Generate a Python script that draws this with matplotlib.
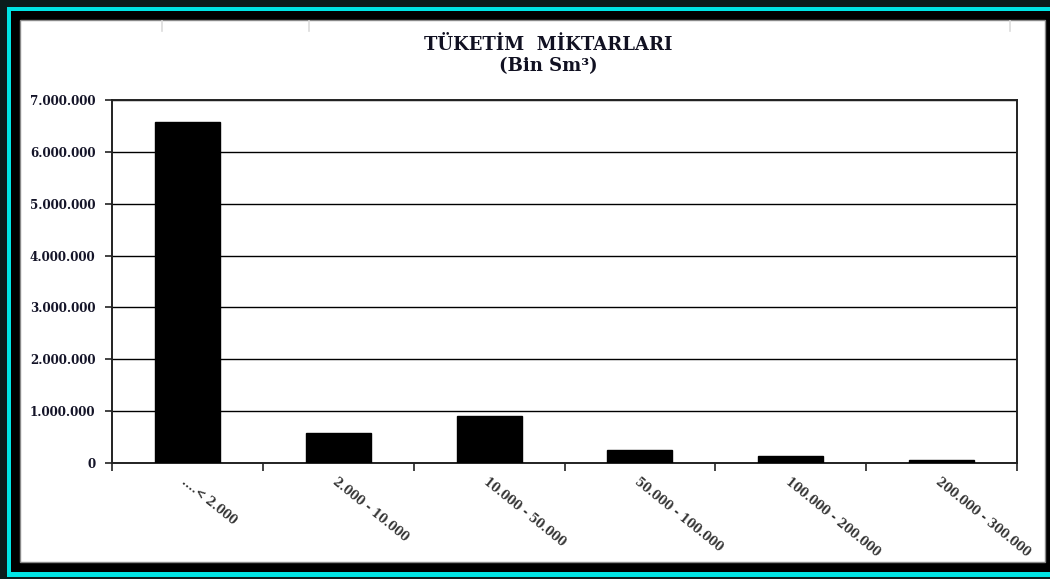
import matplotlib
matplotlib.use("Agg")
import matplotlib.pyplot as plt
from matplotlib.patches import Rectangle
from matplotlib.lines import Line2D
from matplotlib.ticker import FuncFormatter, MultipleLocator

categories = ["....< 2.000", "2.000 - 10.000", "10.000 - 50.000",
              "50.000 - 100.000", "100.000 - 200.000", "200.000 - 300.000"]
values = [6580000, 575000, 905000, 260000, 135000, 58000]

W, H = 1050, 579
FONT = "DejaVu Serif"
fig = plt.figure(figsize=(W / 100, H / 100), dpi=100)
fig.patch.set_facecolor("#0b1c1c")


def px_rect(x0, y0, x1, y1, **kw):
    # rectangle given in pixel coords measured from the top-left corner
    return Rectangle((x0 / W, 1 - y1 / H), (x1 - x0) / W, (y1 - y0) / H,
                     transform=fig.transFigure, **kw)


# layered border: cyan band, black band, white panel
fig.add_artist(px_rect(7, 7, 1060, 577, facecolor="#00e5e5", edgecolor="none", zorder=-10))
fig.add_artist(px_rect(11, 11, 1060, 572, facecolor="black", edgecolor="none", zorder=-9))
fig.add_artist(px_rect(20, 20, 1045, 562, facecolor="white", edgecolor="#8a8a8a",
                       linewidth=1.0, zorder=-8))

# faint marks along the top of the panel
for xm in (162, 309, 1010):
    fig.add_artist(Line2D([xm / W, xm / W], [1 - 21 / H, 1 - 31 / H],
                          transform=fig.transFigure, color="#dcdcdc", linewidth=1.2, zorder=-7))

ax = fig.add_axes([112 / W, 1 - 463 / H, (1017 - 112) / W, (463 - 100) / H])
ax.set_facecolor("white")

x = list(range(len(categories)))
ax.bar(x, values, width=0.43, color="black", edgecolor="black", zorder=3)

ax.set_xlim(-0.5, len(categories) - 0.5)
ax.set_ylim(0, 7000000)
ax.yaxis.set_major_locator(MultipleLocator(1000000))
ax.yaxis.set_major_formatter(FuncFormatter(lambda v, p: f"{int(v):,}".replace(",", ".")))
ax.grid(axis="y", color="black", linewidth=1.0, zorder=1)

for s in ax.spines.values():
    s.set_color("#222222")
    s.set_linewidth(1.4)

ax.set_xticks([i - 0.5 for i in range(len(categories) + 1)])
ax.set_xticklabels([])
ax.tick_params(axis="x", direction="out", length=6, width=1.2, color="#222222")
ax.tick_params(axis="y", direction="out", length=5, width=1.2, color="#222222", pad=7)

for lab in ax.get_yticklabels():
    lab.set_fontfamily(FONT)
    lab.set_fontweight("bold")
    lab.set_fontsize(8.6)
    lab.set_color("#141428")

for i, c in enumerate(categories):
    ax.annotate(c, xy=(i, 0), xycoords=("data", "axes fraction"),
                xytext=(-4, -17), textcoords="offset pixels",
                rotation=-39, rotation_mode="anchor", ha="left", va="center",
                fontfamily=FONT, fontweight="bold", fontsize=8.4,
                color="#333333")

fig.text(548 / W, 1 - 45 / H, "TÜKETİM  MİKTARLARI", ha="center", va="center",
         fontfamily=FONT, fontweight="bold", fontsize=13, color="#111122")
fig.text(548 / W, 1 - 66 / H, "(Bin Sm³)", ha="center", va="center",
         fontfamily=FONT, fontweight="bold", fontsize=13, color="#111122")

fig.savefig("out.png", dpi=100, facecolor=fig.get_facecolor())
